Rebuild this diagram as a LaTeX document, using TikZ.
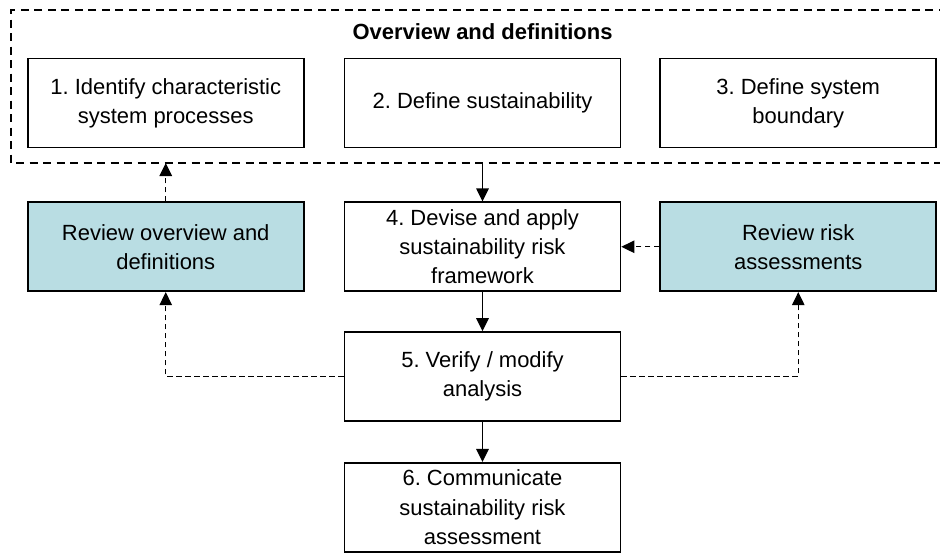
\documentclass[tikz,border=0pt]{standalone}
\usepackage{fontspec}
\setmainfont{Liberation Sans}
\usetikzlibrary{positioning,arrows.meta}

\definecolor{reviewfill}{RGB}{185,221,227}
\frenchspacing

\begin{document}
\begin{tikzpicture}[
  >={Triangle[length=2.6mm,width=2.5mm]},
  box/.style={draw,line width=1pt,align=center,minimum width=5.52cm,
              minimum height=1.78cm,inner sep=0pt,
              font=\fontsize{12.5}{16.6}\selectfont},
  review/.style={box,fill=reviewfill},
  flow/.style={->,line width=0.8pt},
  feedback/.style={->,line width=0.7pt,dash pattern=on 1.1mm off 0.7mm},
  frame/.style={line width=0.8pt,dash pattern=on 1.6mm off 1.1mm}
]
\useasboundingbox (0,0) rectangle (18.8,-11.08);

% overview and definitions
\node[font=\bfseries\fontsize{12.5}{15}\selectfont] (title) at (9.65,-0.64) {Overview and definitions};
\node[box] (define) at (9.65,-2.06) {2. Define sustainability};
\node[box,left=0.78cm of define] (identify) {1. Identify characteristic\\system processes};
\node[box,right=0.76cm of define] (boundary) {3. Define system\\boundary};

\coordinate (framebl) at (0.22,-3.26);
\coordinate (frametl) at (0.22,-0.2);
\draw[frame] (19.2,-0.2) -- (frametl) -- (framebl) -- (19.2,-3.26);

% main sequence
\node[box,below=1.06cm of define] (framework) {4. Devise and apply\\sustainability risk\\framework};
\node[box,below=0.78cm of framework] (verify) {5. Verify / modify\\analysis};
\node[box,below=0.8cm of verify] (communicate) {6. Communicate\\sustainability risk\\assessment};

% review loops
\node[review,left=0.78cm of framework] (revdefs) {Review overview and\\definitions};
\node[review,right=0.76cm of framework] (revrisk) {Review risk\\assessments};

\coordinate (frameout) at (framework.north |- framebl);
\coordinate (framein) at (revdefs.north |- framebl);

\draw[flow] (frameout) -- (framework);
\draw[flow] (framework) -- (verify);
\draw[flow] (verify) -- (communicate);

\draw[feedback] (verify.west) -| (revdefs.south);
\draw[feedback] (verify.east) -| (revrisk.south);
\draw[feedback] (revdefs.north) -- (framein);
\draw[feedback] (revrisk.west) -- (framework.east);
\end{tikzpicture}
\end{document}
